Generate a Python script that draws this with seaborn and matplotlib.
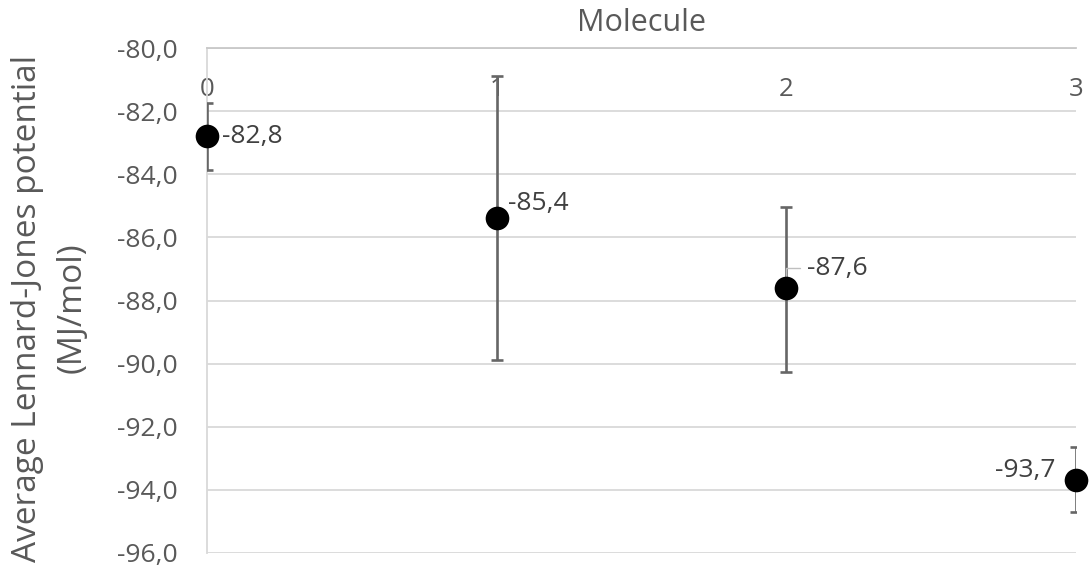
import matplotlib
matplotlib.use("Agg")
import matplotlib.pyplot as plt
import seaborn as sns
import pandas as pd

# Average Lennard-Jones potential per molecule, with error bar half-widths
molecules = [0, 1, 2, 3]
potential = [-82.8, -85.4, -87.6, -93.7]
err_up = [1.05, 4.5, 2.55, 1.05]
err_down = [1.07, 4.5, 2.65, 1.0]
value_labels = ["-82,8", "-85,4", "-87,6", "-93,7"]
y_ticks = [-80, -82, -84, -86, -88, -90, -92, -94, -96]

sns.set_theme(style="white")
plt.rcParams["font.family"] = ["Open Sans", "DejaVu Sans"]

TXT = "#595959"
GRID = "#d9d9d9"

df = pd.DataFrame({"Molecule": molecules, "Potential": potential})

fig = plt.figure(figsize=(10.89, 5.67), dpi=100)
ax = fig.add_axes([0.190, 0.0247, 0.798, 0.8906])

# error bars are clipped to the plot area (half caps at the edges)
ax.errorbar(molecules, potential, yerr=[err_down, err_up], fmt="none",
            ecolor="#666666", elinewidth=1.9, capsize=4.5, capthick=1.9,
            zorder=3, clip_on=True)

sns.scatterplot(data=df, x="Molecule", y="Potential", ax=ax, color="black",
                s=290, edgecolor="black", linewidth=0, zorder=4, clip_on=False,
                legend=False)

ax.set_xlim(0, 3)
ax.set_ylim(-96, -80)
ax.set_yticks(y_ticks)
ax.set_yticklabels([f"{t:.1f}".replace(".", ",") for t in y_ticks])
ax.yaxis.grid(True, color=GRID, linewidth=1.3)
ax.xaxis.grid(False)
ax.set_axisbelow(True)

for side in ["bottom", "right"]:
    ax.spines[side].set_visible(False)
ax.spines["left"].set_color(GRID)
ax.spines["left"].set_linewidth(1.3)
ax.spines["top"].set_color("#c8c8c8")
ax.spines["top"].set_linewidth(1.3)

ax.set_xticks(molecules)
ax.set_xticklabels([str(m) for m in molecules])
ax.xaxis.set_label_position("top")
ax.tick_params(axis="x", bottom=False, top=False, labelbottom=False,
               labeltop=True, pad=-45, labelsize=18.5, labelcolor=TXT)
ax.tick_params(axis="y", left=False, pad=15, labelsize=19, labelcolor=TXT)

ax.set_xlabel("Molecule", fontsize=22, color=TXT, labelpad=12)
ax.set_ylabel("Average Lennard-Jones potential\n(MJ/mol)", fontsize=24,
              color=TXT, linespacing=1.45)
ax.yaxis.set_label_coords(-0.136, 0.485)

# data labels
lab_kw = dict(fontsize=19, color="#404040", va="center")
offsets = [(11, 0), (8, 11), (15, 14), (-15, 7)]
for i, (x, y, t) in enumerate(zip(molecules, potential, value_labels)):
    dx, dy = offsets[i]
    ha = "right" if dx < 0 else "left"
    if i == 2:
        ax.annotate(t, xy=(x, y), xytext=(dx, dy), textcoords="offset points",
                    ha=ha, arrowprops=dict(arrowstyle="-", color="#bfbfbf",
                                           lw=1, shrinkA=3, shrinkB=8,
                                           connectionstyle="angle,angleA=0,angleB=90"),
                    **lab_kw)
    else:
        ax.annotate(t, xy=(x, y), xytext=(dx, dy), textcoords="offset points",
                    ha=ha, **lab_kw)

fig.savefig("out.png", dpi=100)
